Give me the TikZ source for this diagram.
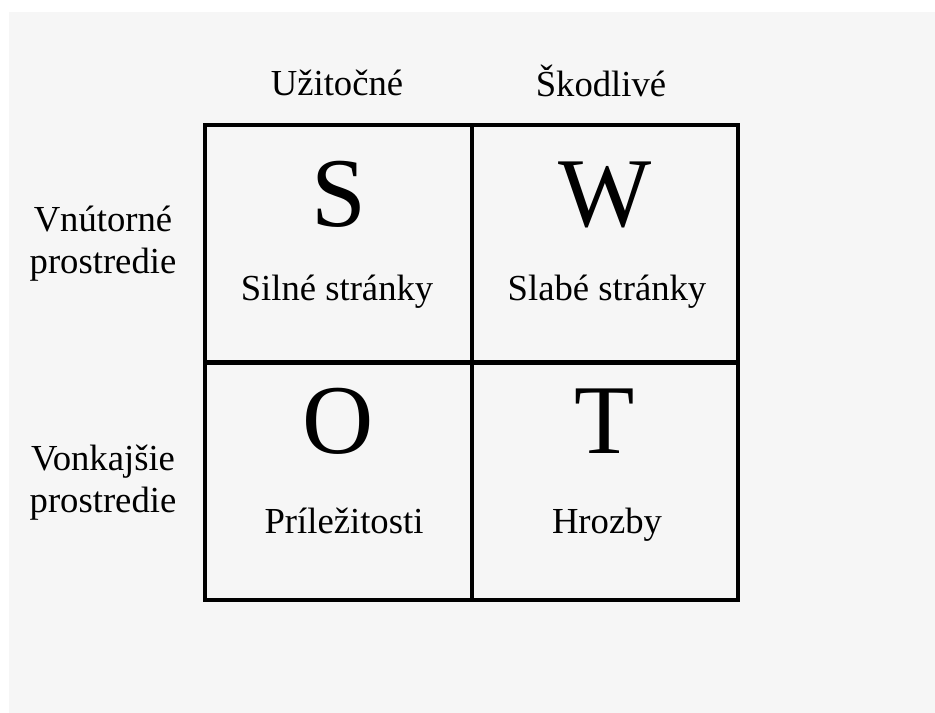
\documentclass[tikz,border=0pt]{standalone}
\usepackage{fontspec}
\setmainfont{Liberation Serif}
\definecolor{bggray}{HTML}{F6F6F6}
\tikzset{
  cell/.style={draw, line width=3pt, minimum width=199.9pt, minimum height=178.1pt, inner sep=0pt},
  letter/.style={font=\fontsize{74}{80}\selectfont, inner sep=0pt, anchor=base},
  lbl/.style={font=\fontsize{27.5}{31.5}\selectfont, align=center, inner sep=0pt, anchor=base}
}

\begin{document}
\begin{tikzpicture}[x=0.75pt,y=-0.75pt]
	\fill[white] (0,0) rectangle (935,713);
	\fill[bggray] (9,12) rectangle (935,713);
	\useasboundingbox (0,0) rectangle (935,713);

	% cells
	\node[cell](cS) at (338.5,243.5){};
	\node[cell](cW) at (605,243.5){};
	\node[cell](cO) at (338.5,481.5){};
	\node[cell](cT) at (605,481.5){};

	% column and row headings
	\node[lbl](useful) at (337,96){Užitočné};
	\node[lbl](harmful) at (601,97){Škodlivé};
	\node[lbl](inner) at (103,273){Vnútorné\\prostredie};
	\node[lbl](outer) at (103,512){Vonkajšie\\prostredie};

	\node[letter](S) at (338.5,226){S};
	\node[letter](W) at (605,226){W};
	\node[letter](O) at (338.5,453){O};
	\node[letter](T) at (605,453){T};

	\node[lbl](strong) at (337,300){Silné stránky};
	\node[lbl](weak) at (607,300){Slabé stránky};
	\node[lbl](opp) at (344,533){Príležitosti};
	\node[lbl](threat) at (607,533){Hrozby};
\end{tikzpicture}
\end{document}
